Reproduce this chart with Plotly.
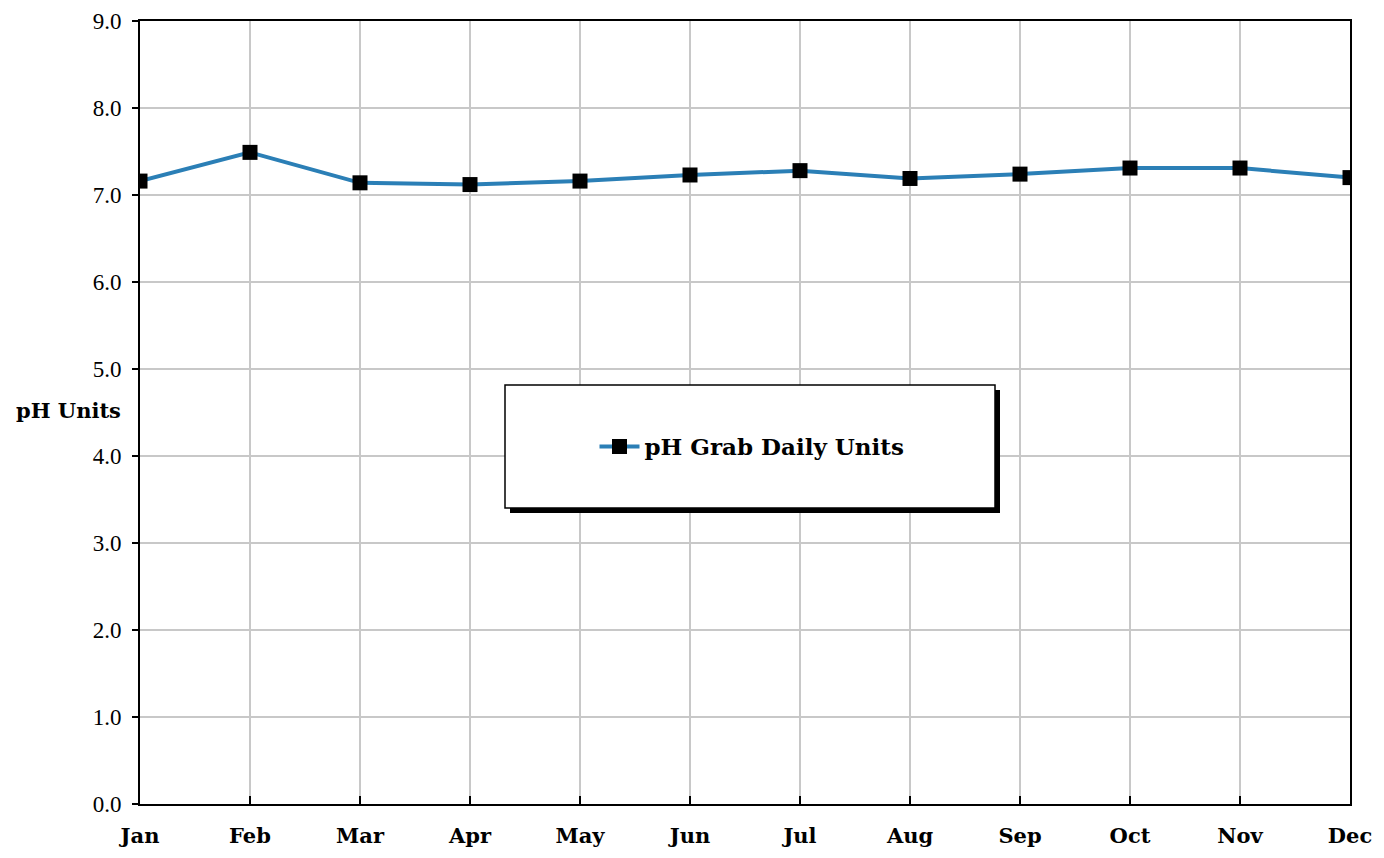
import plotly.graph_objects as go

months = ["Jan", "Feb", "Mar", "Apr", "May", "Jun", "Jul", "Aug", "Sep", "Oct", "Nov", "Dec"]
ph_values = [7.16, 7.49, 7.14, 7.12, 7.16, 7.23, 7.28, 7.19, 7.24, 7.31, 7.31, 7.20]
y_ticks = [0, 1, 2, 3, 4, 5, 6, 7, 8, 9]
y_tick_labels = ["0.0", "1.0", "2.0", "3.0", "4.0", "5.0", "6.0", "7.0", "8.0", "9.0"]
series_name = "pH Grab Daily Units"

x_idx = list(range(len(months)))

fig = go.Figure()
fig.add_trace(go.Scatter(
    x=x_idx, y=ph_values, mode="lines+markers", name=series_name,
    line=dict(color="#2b7fb6", width=4),
    marker=dict(symbol="square", size=15, color="black", line=dict(width=0)),
    showlegend=True,
))

# page has an 8px body margin; figure sized to fit the window
OFF = 8
W, H = 1368, 842
sx0, sx1, sy0, sy1 = 140, 1350, 21, 804  # plot area in screen pixels
L, R, T, B = sx0 - OFF, (W + OFF) - sx1, sy0 - OFF, (H + OFF) - sy1
pw, ph = sx1 - sx0, sy1 - sy0

def px(xs):
    return (xs - sx0) / pw

def py(ys):
    return (sy1 - ys) / ph

bx0, bx1, by0, by1 = 505, 995, 385, 508
shapes = [
    dict(type="rect", xref="paper", yref="paper",
         x0=px(bx0 + 5), x1=px(bx1 + 5), y0=py(by1 + 5), y1=py(by0 + 5),
         fillcolor="black", line=dict(width=0), layer="above"),
    dict(type="rect", xref="paper", yref="paper",
         x0=px(bx0), x1=px(bx1), y0=py(by1), y1=py(by0),
         fillcolor="white", line=dict(color="black", width=1.5), layer="above"),
]

fig.update_layout(
    width=W, height=H,
    margin=dict(l=L, r=R, t=T, b=B, autoexpand=False),
    paper_bgcolor="white", plot_bgcolor="white",
    shapes=shapes,
    xaxis=dict(
        range=[0, 11], tickmode="array", tickvals=x_idx, ticktext=months,
        showgrid=True, gridcolor="#c8c8c8", gridwidth=1.5,
        showline=True, linecolor="black", linewidth=2, mirror=True,
        ticks="inside", ticklen=8, tickcolor="black", tickwidth=1.5,
        ticklabelstandoff=12, ticklabeloverflow="allow", automargin=False,
        tickfont=dict(family="DejaVu Serif", size=21, color="black", weight="bold"),
        zeroline=False,
    ),
    yaxis=dict(
        range=[0, 9], tickmode="array", tickvals=y_ticks, ticktext=y_tick_labels,
        showgrid=True, gridcolor="#c8c8c8", gridwidth=1.5,
        showline=True, linecolor="black", linewidth=2, mirror=True,
        ticks="outside", ticklen=6, tickcolor="black", tickwidth=1.5,
        ticklabelstandoff=6, ticklabeloverflow="allow", automargin=False,
        tickfont=dict(family="Liberation Serif", size=23, color="black"),
        zeroline=False,
    ),
    legend=dict(
        x=px(752), y=(py(by0) + py(by1)) / 2,
        xanchor="center", yanchor="middle",
        bgcolor="rgba(0,0,0,0)", borderwidth=0,
        font=dict(family="DejaVu Serif", size=23, color="black", weight="bold"),
        itemwidth=40,
    ),
    annotations=[
        dict(text="<b>pH Units</b>", xref="paper", yref="paper",
             x=px(68), y=py(410), xanchor="center", yanchor="middle",
             showarrow=False,
             font=dict(family="DejaVu Serif", size=21, color="black")),
    ],
)

fig.write_html("out.html")
